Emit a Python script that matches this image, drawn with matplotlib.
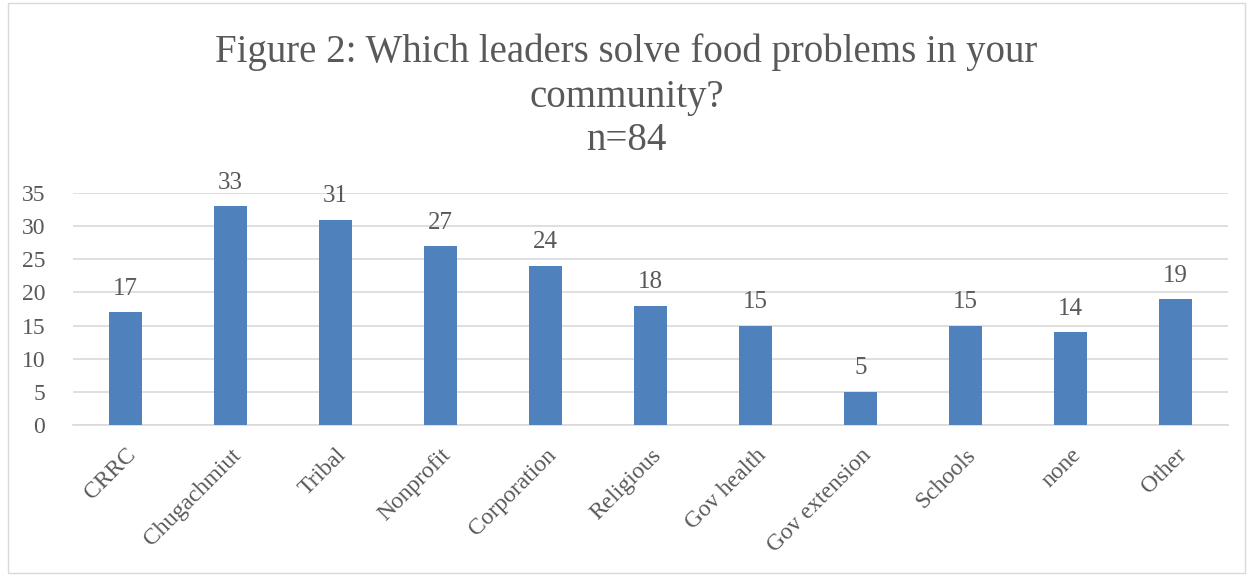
import matplotlib
matplotlib.use("Agg")
import matplotlib.pyplot as plt
from matplotlib.patches import Rectangle

categories = ["CRRC", "Chugachmiut", "Tribal", "Nonprofit", "Corporation", "Religious",
              "Gov health", "Gov extension", "Schools", "none", "Other"]
values = [17, 33, 31, 27, 24, 18, 15, 5, 15, 14, 19]
yticks = [0, 5, 10, 15, 20, 25, 30, 35]

plt.rcParams['font.family'] = ['Liberation Serif', 'DejaVu Serif']
txt = '#595959'

fig = plt.figure(figsize=(12.53, 5.76), dpi=100)
fig.patches.append(Rectangle((8/1253, 3/576), 1237/1253, 570/576, transform=fig.transFigure,
                             fill=False, edgecolor='#D9D9D9', linewidth=1))
ax = fig.add_axes([73/1253, 1 - 425/576, (1228-73)/1253, (425-193)/576])
x = list(range(len(categories)))
bars = ax.bar(x, values, width=0.31, color='#4F81BD', zorder=3)
ax.set_xlim(-0.5, len(categories) - 0.5)
ax.set_ylim(0, 35)
ax.set_yticks(yticks)
ax.yaxis.grid(True, color='#D9D9D9', linewidth=1.2, zorder=0)
for s in ['top', 'right', 'left']:
    ax.spines[s].set_visible(False)
ax.spines['bottom'].set_color('#D9D9D9')
ax.spines['bottom'].set_linewidth(1.2)
ax.tick_params(axis='both', length=0, colors=txt)
ax.tick_params(axis='y', labelsize=17, pad=20)
ax.tick_params(axis='x', labelsize=17, pad=14)
ax.set_xticks(x)
ax.set_xticklabels(categories, rotation=45, ha='right', rotation_mode='anchor')
for b, v in zip(bars, values):
    ax.annotate(str(v), (b.get_x() + b.get_width() / 2, v), xytext=(0, 9),
                textcoords='offset points', ha='center', va='bottom', fontsize=18, color=txt)
fig.text(0.5, 1 - 52/576, "Figure 2: Which leaders solve food problems in your",
         ha='center', va='center', fontsize=28, color=txt)
fig.text(0.5, 1 - 97/576, "community?", ha='center', va='center', fontsize=28, color=txt)
fig.text(0.5, 1 - 140/576, "n=84", ha='center', va='center', fontsize=28, color=txt)
fig.savefig("out.png", dpi=100)
